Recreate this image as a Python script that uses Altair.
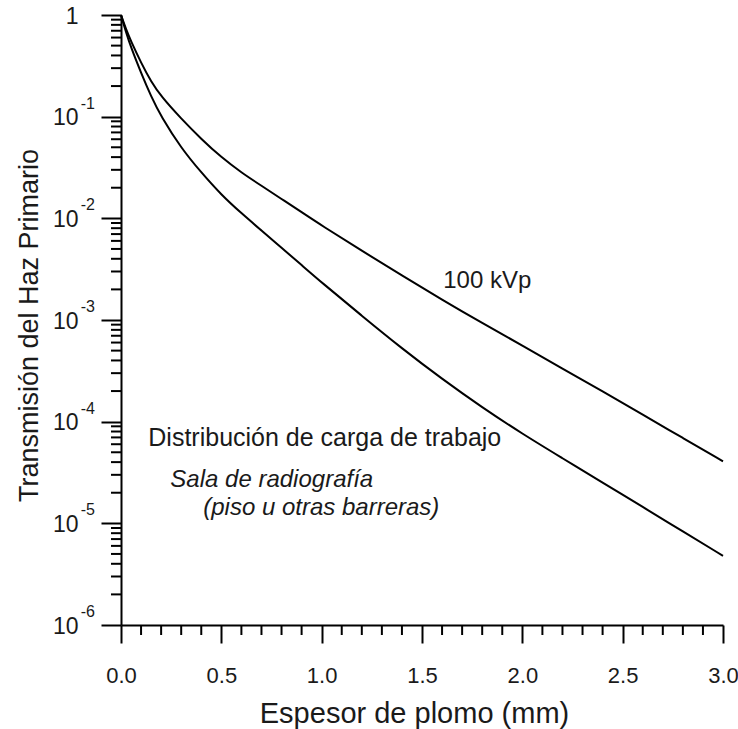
import altair as alt
import pandas as pd

# Thickness of lead (mm)
thickness = [0, 0.025, 0.05, 0.1, 0.15, 0.2, 0.3, 0.4, 0.5, 0.6, 0.7, 0.8, 0.9,
             1.0, 1.2, 1.4, 1.6, 1.8, 2.0, 2.2, 2.4, 2.6, 2.8, 3.0]

# Upper curve (100 kVp)
trans_100kvp = [1.0, 0.724, 0.550, 0.339, 0.221, 0.158, 0.0955, 0.0603, 0.0398, 0.0282,
                0.0209, 0.0155, 0.0115, 0.00851, 0.00479, 0.00275, 0.00158, 0.000933,
                0.000562, 0.000331, 0.000200, 0.000117, 0.0000692, 0.0000407]

# Lower curve (workload distribution, radiography room)
trans_sala = [1.0, 0.676, 0.479, 0.269, 0.158, 0.100, 0.0490, 0.0282, 0.0170, 0.0112,
              0.00759, 0.00513, 0.00347, 0.00234, 0.00110, 0.000525, 0.000263, 0.000138,
              0.0000759, 0.0000437, 0.0000251, 0.0000145, 0.00000832, 0.00000479]

x_major = [0.0, 0.5, 1.0, 1.5, 2.0, 2.5, 3.0]
x_minor = [0.1, 0.2, 0.3, 0.4, 0.6, 0.7, 0.8, 0.9, 1.1, 1.2, 1.3, 1.4, 1.6, 1.7, 1.8, 1.9,
           2.1, 2.2, 2.3, 2.4, 2.6, 2.7, 2.8, 2.9]
y_decades = [1e-6, 1e-5, 1e-4, 1e-3, 1e-2, 1e-1, 1.0]
y_exponents = ["-6", "-5", "-4", "-3", "-2", "-1"]
y_minor = [k * d for d in [1e-6, 1e-5, 1e-4, 1e-3, 1e-2, 1e-1] for k in range(2, 10)]

ann_normal_text = ["100 kVp", "Distribución de carga de trabajo"]
ann_normal_x = [1.606, 0.136]
ann_normal_y = [2.07e-3, 5.78e-5]
ann_normal_size = [24, 25]
ann_italic_text = ["Sala de radiografía", "(piso u otras barreras)"]
ann_italic_x = [0.246, 0.41]
ann_italic_y = [2.28e-5, 1.21e-5]

FONT = "Liberation Sans"
TXT = "#1a1a1a"

rows = []
for xv, a, b in zip(thickness, trans_100kvp, trans_sala):
    rows.append({"x": xv, "y": a, "s": "100kvp"})
    rows.append({"x": xv, "y": b, "s": "sala"})
curves = pd.DataFrame(rows)

xscale = alt.Scale(domain=[0, 3], nice=False, zero=False)
yscale = alt.Scale(type="log", domain=[1e-6, 1], nice=False)

xaxis = alt.Axis(values=x_major, format=".1f", title="Espesor de plomo (mm)",
                 tickSize=18, tickWidth=2, tickColor="black", domainWidth=2, domainColor="black",
                 labelFont=FONT, labelFontSize=22, labelColor=TXT, labelBaseline="alphabetic",
                 labelPadding=39, labelFlush=False, labelOverlap=False, grid=False,
                 titleFont=FONT, titleFontSize=29, titleFontWeight="normal", titleColor=TXT,
                 titleX=293, titleY=97, titleBaseline="alphabetic", titleAlign="center")
yaxis = alt.Axis(values=y_decades, labelExpr="datum.value >= 1 ? '1' : '10'",
                 title="Transmisión del Haz Primario",
                 tickSize=20, tickWidth=2, tickColor="black", domainWidth=2, domainColor="black",
                 labelFont=FONT, labelFontSize=23, labelColor=TXT, labelAlign="right",
                 labelBaseline="alphabetic", labelOffset=8, labelPadding=23,
                 labelFlush=False, labelOverlap=False, grid=False,
                 titleFont=FONT, titleFontSize=27, titleFontWeight="normal", titleColor=TXT,
                 titleAngle=270, titleX=-84, titleY=310, titleBaseline="alphabetic",
                 titleAlign="center")

lines = alt.Chart(curves).mark_line(color="black", strokeWidth=2, interpolate="basis").encode(
    x=alt.X("x:Q", scale=xscale, axis=xaxis),
    y=alt.Y("y:Q", scale=yscale, axis=yaxis),
    detail="s:N",
)

exp_df = pd.DataFrame({"v": y_decades[:-1], "t": y_exponents})
exps = alt.Chart(exp_df).mark_text(align="right", baseline="alphabetic", dx=-26, dy=-8,
                                   font=FONT, fontSize=16, color=TXT).encode(
    x=alt.datum(0.0), y=alt.Y("v:Q", scale=yscale), text="t:N")

ymin_df = pd.DataFrame({"v": y_minor})
yminor = alt.Chart(ymin_df).mark_rule(color="black", strokeWidth=2).encode(
    y=alt.Y("v:Q", scale=yscale), x=alt.value(-10), x2=alt.value(0))

xmin_df = pd.DataFrame({"v": x_minor})
xminor = alt.Chart(xmin_df).mark_rule(color="black", strokeWidth=2).encode(
    x=alt.X("v:Q", scale=xscale), y=alt.value(610), y2=alt.value(620))

an_df = pd.DataFrame({"x": ann_normal_x, "y": ann_normal_y, "t": ann_normal_text,
                      "fs": ann_normal_size})
ann1 = alt.Chart(an_df).mark_text(align="left", baseline="alphabetic", font=FONT,
                                  color=TXT).encode(
    x=alt.X("x:Q", scale=xscale), y=alt.Y("y:Q", scale=yscale), text="t:N",
    size=alt.Size("fs:Q", scale=None, legend=None))

ai_df = pd.DataFrame({"x": ann_italic_x, "y": ann_italic_y, "t": ann_italic_text})
ann2 = alt.Chart(ai_df).mark_text(align="left", baseline="alphabetic", font=FONT,
                                  fontSize=24, fontStyle="italic", color=TXT).encode(
    x=alt.X("x:Q", scale=xscale), y=alt.Y("y:Q", scale=yscale), text="t:N")

chart = alt.layer(lines, yminor, xminor, exps, ann1, ann2).properties(
    width=602, height=610,
    autosize=alt.AutoSizeParams(type="none"),
    padding={"left": 121, "top": 15, "right": 15, "bottom": 104},
    background="white",
).configure_view(stroke=None)

chart.save("out.html", embed_options={"renderer": "svg", "actions": False})
